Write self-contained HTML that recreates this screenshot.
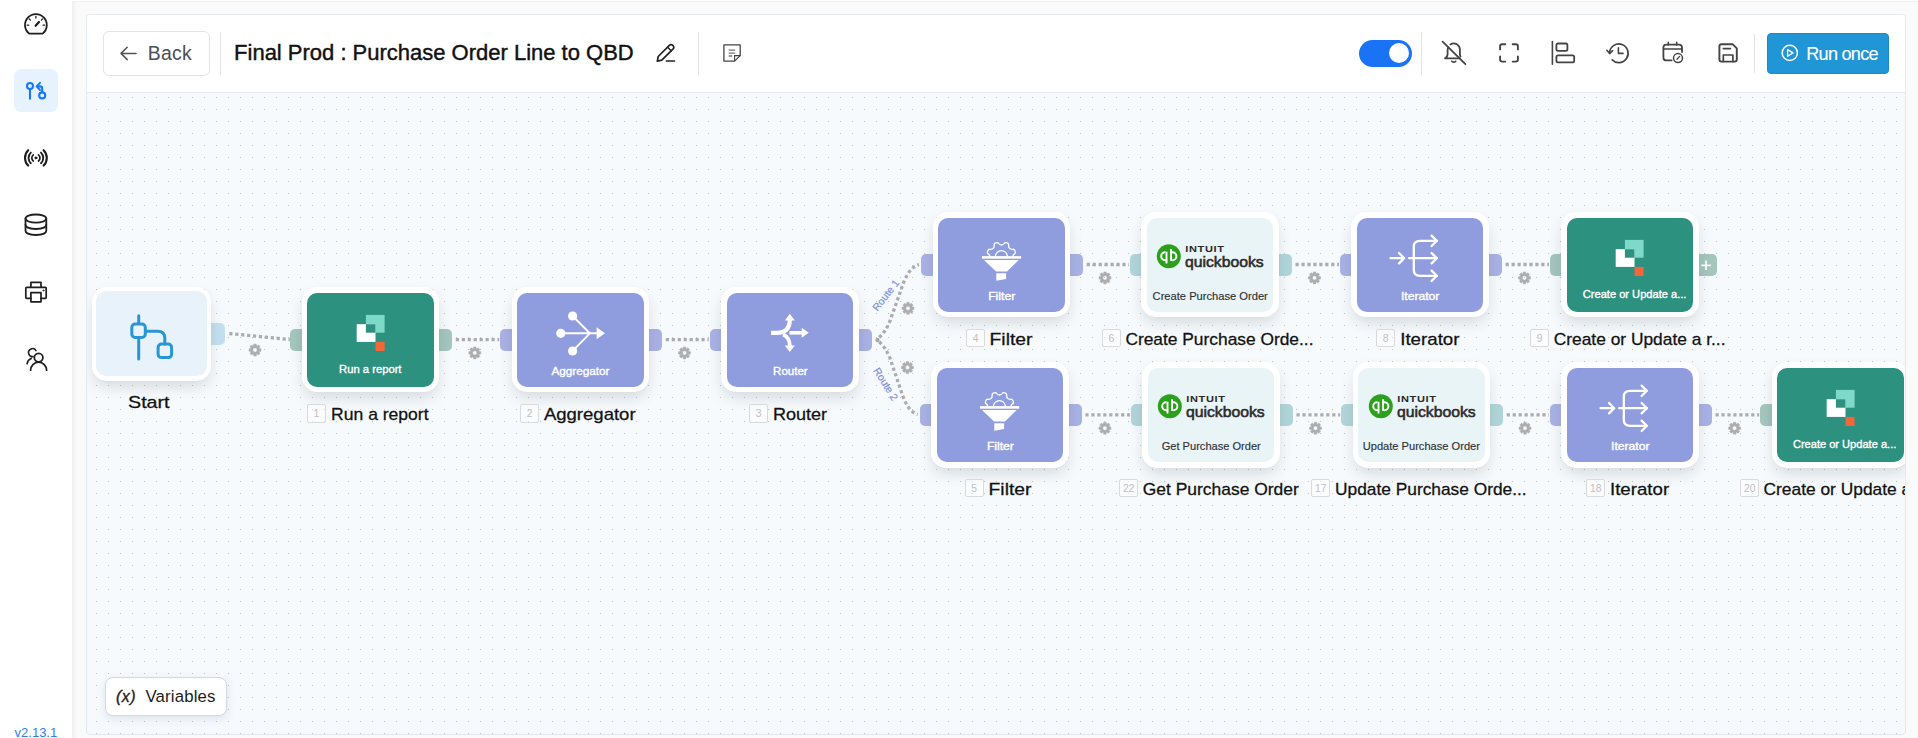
<!DOCTYPE html>
<html><head><meta charset="utf-8">
<style>
*{box-sizing:border-box;margin:0;padding:0}
html,body{width:1918px;height:738px;overflow:hidden;background:#fafafa;font-family:"Liberation Sans",sans-serif;}
#topline{position:absolute;left:72px;top:0;width:1846px;height:2px;background:linear-gradient(#fff 0 1px,#efefef 1px 2px)}
#side{position:absolute;left:0;top:0;width:72px;height:738px;background:#fff}#side:after{content:'';position:absolute;left:72px;top:2px;width:5px;height:736px;background:linear-gradient(90deg,rgba(0,0,0,.045),rgba(0,0,0,0))}
#side .act{position:absolute;left:14px;top:69px;width:44px;height:43px;border-radius:7px;background:#e6f3ff}
#side svg{position:absolute}
#ver{position:absolute;left:15px;top:725px;font-size:13px;color:#2f7df6;letter-spacing:-.3px}
#card{position:absolute;left:86px;top:14px;width:1820px;height:721px;border:1px solid #e4e9f0;border-radius:4px;background:#f6fafd;overflow:hidden}
#hdr{position:absolute;left:0;top:0;width:1818px;height:78px;background:#fff;border-bottom:1px solid #e4e7ec}
#dots{position:absolute;left:0;top:78px;width:1818px;height:643px;
 background-image:radial-gradient(circle at .5px .5px,#c0c3c7 0,#c0c3c7 .58px,transparent .8px);background-size:12px 12px;background-position:9px 4px}
#cv{position:absolute;left:0;top:0;width:1918px;height:738px;clip-path:inset(93px 13px 4px 87px)}
.abs{position:absolute}
.back{position:absolute;left:103px;top:31px;width:107px;height:45px;border:1px solid #e2e4e8;border-radius:6px;background:#fff;color:#4b4f58;font-size:20px}
.back span{position:absolute;left:45px;top:10px}
.vdiv{position:absolute;width:1px;background:#e4e4e7}
#title{position:absolute;left:234px;top:40px;font-size:21px;color:#111;white-space:nowrap;letter-spacing:.1px;-webkit-text-stroke:.35px #111}
.sw{position:absolute;left:1359px;top:39.6px;width:53px;height:27.4px;border-radius:14px;background:#1a73f5}
.sw i{position:absolute;right:3px;top:3.6px;width:20.2px;height:20.2px;border-radius:11px;background:#fff}
.run{position:absolute;left:1767px;top:33px;width:122px;height:41px;border-radius:4px;background:#2196d6;border:1px solid #1e8ac6;color:#fff;font-size:18px}
.run span{position:absolute;left:38px;top:9px;white-space:nowrap}
.vars{position:absolute;left:105px;top:677px;width:122px;height:39px;border:1px solid #d3d9e2;border-radius:8px;background:#fff;box-shadow:0 3px 8px rgba(60,80,110,.13);font-size:16px;color:#222}
.vars i{position:absolute;left:10px;top:9px;font-style:italic;font-weight:bold;font-size:15px}
.vars span{position:absolute;left:40px;top:9px}
/* nodes */
.node{position:absolute;width:137.9px;height:105.4px;border-radius:15px;background:#fff;box-shadow:0 7px 15px -2px rgba(20,25,35,.15)}
.node .box{position:absolute;left:5.9px;top:5.9px;right:5.9px;bottom:5.9px;border-radius:10px}
.node .nm{position:absolute;left:0;right:0;top:76.3px;text-align:center;font-size:10.6px;color:#fff;white-space:nowrap;-webkit-text-stroke:.25px currentColor}
.port{position:absolute;width:22px;height:22.5px;top:41.5px;border-radius:5px;z-index:-1}
.port.l{left:-11.6px}.port.r{right:-12.7px}.port.plus{right:-17.4px;width:26px;background:#a4c6bd}.port.plus svg{position:absolute;left:7.4px;top:0}
.pu .box{background:#8f9ddf}.pu .port{background:#a9b2e4}
.gr .box{background:#2d917f}.gr .port{background:#a4c6bd}
.qb .box{background:#e9f4f7}.qb .port{background:#b1d6da}.qb .nm{color:#333}
.st{width:119.2px;height:93.9px}.st.node .box{left:4.4px;top:4.5px;right:3.8px;bottom:4.5px}.st .box{left:4.3px;top:4.3px;right:4.3px;bottom:4.3px;background:#e8f2fa}.st .port{background:#c4e0f0;top:36.3px;height:22px;right:-14.2px}
.lbl{position:absolute;font-size:16.5px;color:#111;white-space:nowrap;-webkit-text-stroke:.3px #111;height:20px;line-height:20px}
.bd{position:absolute;width:18.8px;height:18.3px;border:1px solid #dadada;border-radius:2px;background:rgba(255,255,255,.45);color:#bfbfbf;font-size:10.4px;text-align:center;line-height:17.6px;letter-spacing:-.1px}
</style></head><body>
<div id="topline"></div>
<div id="card"><div id="hdr"></div><div id="dots"></div></div>
<div id="side"><div class="act"></div></div>

<div class="back"></div>
<div class="vdiv" style="left:220px;top:32px;height:43px"></div>

<div class="vdiv" style="left:698px;top:32px;height:43px"></div>
<div class="sw"><i></i></div>
<div class="vdiv" style="left:1421px;top:32px;height:43px"></div>
<div class="vdiv" style="left:1754px;top:34px;height:39px"></div>
<div class="run"></div>

<div id="cv">
<svg class="abs" style="left:0;top:0" width="1918" height="738">
<path d="M229.3,333.5 L290.0,339.6" fill="none" stroke="#acacae" stroke-width="3.3" stroke-dasharray="3.2 2.75"/>
<path transform="translate(249.0,344.0)" d="M4.59,1.67 L4.78,0.02 L7.22,0.02 L7.41,1.67 L8.07,1.95 L9.37,0.91 L11.09,2.63 L10.05,3.93 L10.33,4.59 L11.98,4.78 L11.98,7.22 L10.33,7.41 L10.05,8.07 L11.09,9.37 L9.37,11.09 L8.07,10.05 L7.41,10.33 L7.22,11.98 L4.78,11.98 L4.59,10.33 L3.93,10.05 L2.63,11.09 L0.91,9.37 L1.95,8.07 L1.67,7.41 L0.02,7.22 L0.02,4.78 L1.67,4.59 L1.95,3.93 L0.91,2.63 L2.63,0.91 L3.93,1.95 Z M3.85,6.00 A2.15,2.15 0 1 0 8.15,6.00 A2.15,2.15 0 1 0 3.85,6.00 Z" fill="#adadad" fill-rule="evenodd" stroke="#adadad" stroke-width=".5" stroke-linejoin="round"/>
<path d="M455.8,339.6 L499.2,339.6" fill="none" stroke="#acacae" stroke-width="3.3" stroke-dasharray="3.2 2.75"/>
<path transform="translate(468.8,346.9)" d="M4.59,1.67 L4.78,0.02 L7.22,0.02 L7.41,1.67 L8.07,1.95 L9.37,0.91 L11.09,2.63 L10.05,3.93 L10.33,4.59 L11.98,4.78 L11.98,7.22 L10.33,7.41 L10.05,8.07 L11.09,9.37 L9.37,11.09 L8.07,10.05 L7.41,10.33 L7.22,11.98 L4.78,11.98 L4.59,10.33 L3.93,10.05 L2.63,11.09 L0.91,9.37 L1.95,8.07 L1.67,7.41 L0.02,7.22 L0.02,4.78 L1.67,4.59 L1.95,3.93 L0.91,2.63 L2.63,0.91 L3.93,1.95 Z M3.85,6.00 A2.15,2.15 0 1 0 8.15,6.00 A2.15,2.15 0 1 0 3.85,6.00 Z" fill="#adadad" fill-rule="evenodd" stroke="#adadad" stroke-width=".5" stroke-linejoin="round"/>
<path d="M665.8,339.6 L708.7,339.6" fill="none" stroke="#acacae" stroke-width="3.3" stroke-dasharray="3.2 2.75"/>
<path transform="translate(678.5,346.9)" d="M4.59,1.67 L4.78,0.02 L7.22,0.02 L7.41,1.67 L8.07,1.95 L9.37,0.91 L11.09,2.63 L10.05,3.93 L10.33,4.59 L11.98,4.78 L11.98,7.22 L10.33,7.41 L10.05,8.07 L11.09,9.37 L9.37,11.09 L8.07,10.05 L7.41,10.33 L7.22,11.98 L4.78,11.98 L4.59,10.33 L3.93,10.05 L2.63,11.09 L0.91,9.37 L1.95,8.07 L1.67,7.41 L0.02,7.22 L0.02,4.78 L1.67,4.59 L1.95,3.93 L0.91,2.63 L2.63,0.91 L3.93,1.95 Z M3.85,6.00 A2.15,2.15 0 1 0 8.15,6.00 A2.15,2.15 0 1 0 3.85,6.00 Z" fill="#adadad" fill-rule="evenodd" stroke="#adadad" stroke-width=".5" stroke-linejoin="round"/>
<path d="M1086.7,264.5 L1128.9,264.5" fill="none" stroke="#acacae" stroke-width="3.3" stroke-dasharray="3.2 2.75"/>
<path transform="translate(1099.0,271.9)" d="M4.59,1.67 L4.78,0.02 L7.22,0.02 L7.41,1.67 L8.07,1.95 L9.37,0.91 L11.09,2.63 L10.05,3.93 L10.33,4.59 L11.98,4.78 L11.98,7.22 L10.33,7.41 L10.05,8.07 L11.09,9.37 L9.37,11.09 L8.07,10.05 L7.41,10.33 L7.22,11.98 L4.78,11.98 L4.59,10.33 L3.93,10.05 L2.63,11.09 L0.91,9.37 L1.95,8.07 L1.67,7.41 L0.02,7.22 L0.02,4.78 L1.67,4.59 L1.95,3.93 L0.91,2.63 L2.63,0.91 L3.93,1.95 Z M3.85,6.00 A2.15,2.15 0 1 0 8.15,6.00 A2.15,2.15 0 1 0 3.85,6.00 Z" fill="#adadad" fill-rule="evenodd" stroke="#adadad" stroke-width=".5" stroke-linejoin="round"/>
<path d="M1295.5,264.5 L1339.0,264.5" fill="none" stroke="#acacae" stroke-width="3.3" stroke-dasharray="3.2 2.75"/>
<path transform="translate(1308.5,271.9)" d="M4.59,1.67 L4.78,0.02 L7.22,0.02 L7.41,1.67 L8.07,1.95 L9.37,0.91 L11.09,2.63 L10.05,3.93 L10.33,4.59 L11.98,4.78 L11.98,7.22 L10.33,7.41 L10.05,8.07 L11.09,9.37 L9.37,11.09 L8.07,10.05 L7.41,10.33 L7.22,11.98 L4.78,11.98 L4.59,10.33 L3.93,10.05 L2.63,11.09 L0.91,9.37 L1.95,8.07 L1.67,7.41 L0.02,7.22 L0.02,4.78 L1.67,4.59 L1.95,3.93 L0.91,2.63 L2.63,0.91 L3.93,1.95 Z M3.85,6.00 A2.15,2.15 0 1 0 8.15,6.00 A2.15,2.15 0 1 0 3.85,6.00 Z" fill="#adadad" fill-rule="evenodd" stroke="#adadad" stroke-width=".5" stroke-linejoin="round"/>
<path d="M1505.6,264.5 L1549.0,264.5" fill="none" stroke="#acacae" stroke-width="3.3" stroke-dasharray="3.2 2.75"/>
<path transform="translate(1518.5,271.9)" d="M4.59,1.67 L4.78,0.02 L7.22,0.02 L7.41,1.67 L8.07,1.95 L9.37,0.91 L11.09,2.63 L10.05,3.93 L10.33,4.59 L11.98,4.78 L11.98,7.22 L10.33,7.41 L10.05,8.07 L11.09,9.37 L9.37,11.09 L8.07,10.05 L7.41,10.33 L7.22,11.98 L4.78,11.98 L4.59,10.33 L3.93,10.05 L2.63,11.09 L0.91,9.37 L1.95,8.07 L1.67,7.41 L0.02,7.22 L0.02,4.78 L1.67,4.59 L1.95,3.93 L0.91,2.63 L2.63,0.91 L3.93,1.95 Z M3.85,6.00 A2.15,2.15 0 1 0 8.15,6.00 A2.15,2.15 0 1 0 3.85,6.00 Z" fill="#adadad" fill-rule="evenodd" stroke="#adadad" stroke-width=".5" stroke-linejoin="round"/>
<path d="M1085.4,414.8 L1129.9,414.8" fill="none" stroke="#acacae" stroke-width="3.3" stroke-dasharray="3.2 2.75"/>
<path transform="translate(1098.9,422.2)" d="M4.59,1.67 L4.78,0.02 L7.22,0.02 L7.41,1.67 L8.07,1.95 L9.37,0.91 L11.09,2.63 L10.05,3.93 L10.33,4.59 L11.98,4.78 L11.98,7.22 L10.33,7.41 L10.05,8.07 L11.09,9.37 L9.37,11.09 L8.07,10.05 L7.41,10.33 L7.22,11.98 L4.78,11.98 L4.59,10.33 L3.93,10.05 L2.63,11.09 L0.91,9.37 L1.95,8.07 L1.67,7.41 L0.02,7.22 L0.02,4.78 L1.67,4.59 L1.95,3.93 L0.91,2.63 L2.63,0.91 L3.93,1.95 Z M3.85,6.00 A2.15,2.15 0 1 0 8.15,6.00 A2.15,2.15 0 1 0 3.85,6.00 Z" fill="#adadad" fill-rule="evenodd" stroke="#adadad" stroke-width=".5" stroke-linejoin="round"/>
<path d="M1296.5,414.8 L1340.1,414.8" fill="none" stroke="#acacae" stroke-width="3.3" stroke-dasharray="3.2 2.75"/>
<path transform="translate(1309.5,422.2)" d="M4.59,1.67 L4.78,0.02 L7.22,0.02 L7.41,1.67 L8.07,1.95 L9.37,0.91 L11.09,2.63 L10.05,3.93 L10.33,4.59 L11.98,4.78 L11.98,7.22 L10.33,7.41 L10.05,8.07 L11.09,9.37 L9.37,11.09 L8.07,10.05 L7.41,10.33 L7.22,11.98 L4.78,11.98 L4.59,10.33 L3.93,10.05 L2.63,11.09 L0.91,9.37 L1.95,8.07 L1.67,7.41 L0.02,7.22 L0.02,4.78 L1.67,4.59 L1.95,3.93 L0.91,2.63 L2.63,0.91 L3.93,1.95 Z M3.85,6.00 A2.15,2.15 0 1 0 8.15,6.00 A2.15,2.15 0 1 0 3.85,6.00 Z" fill="#adadad" fill-rule="evenodd" stroke="#adadad" stroke-width=".5" stroke-linejoin="round"/>
<path d="M1506.7,414.8 L1548.9,414.8" fill="none" stroke="#acacae" stroke-width="3.3" stroke-dasharray="3.2 2.75"/>
<path transform="translate(1519.0,422.2)" d="M4.59,1.67 L4.78,0.02 L7.22,0.02 L7.41,1.67 L8.07,1.95 L9.37,0.91 L11.09,2.63 L10.05,3.93 L10.33,4.59 L11.98,4.78 L11.98,7.22 L10.33,7.41 L10.05,8.07 L11.09,9.37 L9.37,11.09 L8.07,10.05 L7.41,10.33 L7.22,11.98 L4.78,11.98 L4.59,10.33 L3.93,10.05 L2.63,11.09 L0.91,9.37 L1.95,8.07 L1.67,7.41 L0.02,7.22 L0.02,4.78 L1.67,4.59 L1.95,3.93 L0.91,2.63 L2.63,0.91 L3.93,1.95 Z M3.85,6.00 A2.15,2.15 0 1 0 8.15,6.00 A2.15,2.15 0 1 0 3.85,6.00 Z" fill="#adadad" fill-rule="evenodd" stroke="#adadad" stroke-width=".5" stroke-linejoin="round"/>
<path d="M1715.5,414.8 L1759.2,414.8" fill="none" stroke="#acacae" stroke-width="3.3" stroke-dasharray="3.2 2.75"/>
<path transform="translate(1728.6,422.2)" d="M4.59,1.67 L4.78,0.02 L7.22,0.02 L7.41,1.67 L8.07,1.95 L9.37,0.91 L11.09,2.63 L10.05,3.93 L10.33,4.59 L11.98,4.78 L11.98,7.22 L10.33,7.41 L10.05,8.07 L11.09,9.37 L9.37,11.09 L8.07,10.05 L7.41,10.33 L7.22,11.98 L4.78,11.98 L4.59,10.33 L3.93,10.05 L2.63,11.09 L0.91,9.37 L1.95,8.07 L1.67,7.41 L0.02,7.22 L0.02,4.78 L1.67,4.59 L1.95,3.93 L0.91,2.63 L2.63,0.91 L3.93,1.95 Z M3.85,6.00 A2.15,2.15 0 1 0 8.15,6.00 A2.15,2.15 0 1 0 3.85,6.00 Z" fill="#adadad" fill-rule="evenodd" stroke="#adadad" stroke-width=".5" stroke-linejoin="round"/>
<circle cx="877.5" cy="340" r="2.2" fill="#aaa"/>
<path id="r1" d="M879.2,337.4 C 884,333 887,328 890,321 L 902,287 C 905,278 910,267 919,264.6" fill="none" stroke="#acacae" stroke-width="3.3" stroke-dasharray="3.2 2.75"/>
<path id="r2" d="M879.2,341.8 C 884,346.2 887,351.2 890,358.2 L 901.5,392.2 C 904.5,401.2 909,412 917.6,414.4" fill="none" stroke="#acacae" stroke-width="3.3" stroke-dasharray="3.2 2.75"/>
<path transform="translate(902.0,302.3)" d="M4.59,1.67 L4.78,0.02 L7.22,0.02 L7.41,1.67 L8.07,1.95 L9.37,0.91 L11.09,2.63 L10.05,3.93 L10.33,4.59 L11.98,4.78 L11.98,7.22 L10.33,7.41 L10.05,8.07 L11.09,9.37 L9.37,11.09 L8.07,10.05 L7.41,10.33 L7.22,11.98 L4.78,11.98 L4.59,10.33 L3.93,10.05 L2.63,11.09 L0.91,9.37 L1.95,8.07 L1.67,7.41 L0.02,7.22 L0.02,4.78 L1.67,4.59 L1.95,3.93 L0.91,2.63 L2.63,0.91 L3.93,1.95 Z M3.85,6.00 A2.15,2.15 0 1 0 8.15,6.00 A2.15,2.15 0 1 0 3.85,6.00 Z" fill="#adadad" fill-rule="evenodd" stroke="#adadad" stroke-width=".5" stroke-linejoin="round"/>
<path transform="translate(901.5,361.5)" d="M4.59,1.67 L4.78,0.02 L7.22,0.02 L7.41,1.67 L8.07,1.95 L9.37,0.91 L11.09,2.63 L10.05,3.93 L10.33,4.59 L11.98,4.78 L11.98,7.22 L10.33,7.41 L10.05,8.07 L11.09,9.37 L9.37,11.09 L8.07,10.05 L7.41,10.33 L7.22,11.98 L4.78,11.98 L4.59,10.33 L3.93,10.05 L2.63,11.09 L0.91,9.37 L1.95,8.07 L1.67,7.41 L0.02,7.22 L0.02,4.78 L1.67,4.59 L1.95,3.93 L0.91,2.63 L2.63,0.91 L3.93,1.95 Z M3.85,6.00 A2.15,2.15 0 1 0 8.15,6.00 A2.15,2.15 0 1 0 3.85,6.00 Z" fill="#adadad" fill-rule="evenodd" stroke="#adadad" stroke-width=".5" stroke-linejoin="round"/>
<text font-family="Liberation Sans" font-size="10.4" fill="#7d92dc" stroke="#7d92dc" stroke-width=".2" transform="translate(877.4,311.8) rotate(-52)">Route 1</text>
<text font-family="Liberation Sans" font-size="10.4" fill="#7d92dc" stroke="#7d92dc" stroke-width=".2" transform="translate(873.1,370.5) rotate(58)">Route 2</text>
</svg>
<div class="node st" style="left:91.6px;top:286.7px"><div class="port r"></div><div class="box"></div><svg class="abs" style="left:0;top:0" width="120" height="94" fill="none" stroke="#2996d4" stroke-width="3" stroke-linecap="round"><path d="M46.7,28.8 L46.7,72.1"/><rect x="39.8" y="37.0" width="13.5" height="13.5" rx="3.4" fill="#e8f2fa"/><rect x="66.1" y="57.1" width="13.5" height="13.5" rx="3.4" fill="#e8f2fa"/><path d="M53.6,44.3 L65.7,44.3 Q72.8,44.3 72.8,51.3 L72.8,56.9"/></svg></div>
<div class="node gr" style="left:301.6px;top:287.05px"><div class="port l"></div><div class="port r"></div><div class="box"></div><svg class="abs" style="left:0;top:0" width="138" height="105"><rect x="63.9" y="27.9" width="18.7" height="17.8" fill="#7fd9c8"/><rect x="54.7" y="37.2" width="18.8" height="17.7" fill="#fff"/><rect x="63.9" y="37.2" width="9.6" height="8.5" fill="#2d917f"/><rect x="73.5" y="54.9" width="9.1" height="9.1" fill="#f2663a"/></svg></div>
<div class="node pu" style="left:511.6px;top:287.05px"><div class="port l"></div><div class="port r"></div><div class="box"></div><svg class="abs" style="left:0;top:0" width="138" height="105" fill="#fff" stroke="#fff" stroke-width="1.9" stroke-linecap="round"><circle cx="60.6" cy="29.0" r="4.6" stroke="none"/><circle cx="48.8" cy="46.3" r="4.6" stroke="none"/><circle cx="60.6" cy="64.0" r="4.6" stroke="none"/><path d="M60.6,29.0 L77.9,46.3 L60.6,64.0 M48.8,46.3 L86.4,46.3" fill="none"/><path d="M84.6,40.3 L93.0,46.3 L84.6,52.3 Z" stroke="none"/></svg></div>
<div class="node pu" style="left:721.1px;top:287.05px"><div class="port l"></div><div class="port r"></div><div class="box"></div><svg class="abs" style="left:0;top:0" width="138" height="105" fill="#fff" stroke="#fff" stroke-width="3.8" stroke-linecap="butt"><path d="M50.1,45.9 L56.0,45.9 Q68.8,45.5 68.8,32.7" fill="none" stroke-width="4.2"/><path d="M63.9,33.5 L68.8,26.7 L73.7,33.5 Z" stroke="none"/><path d="M68.5,45.8 L81.1,45.8" fill="none" stroke-width="3.6"/><path d="M80.7,40.7 L87.7,45.7 L80.7,50.7 Z" stroke="none"/><path d="M62.1,47.5 Q68.8,50.5 68.8,59.1" fill="none" stroke-width="3.6"/><path d="M63.8,58.5 L68.8,65.1 L73.8,58.5 Z" stroke="none"/></svg></div>
<div class="node pu" style="left:932.5px;top:212.0px"><div class="port l"></div><div class="port r"></div><div class="box"></div><svg class="abs" style="left:0;top:0" width="138" height="105" fill="#fff" stroke="#fff" stroke-linecap="butt" stroke-linejoin="round"><path d="M56.7,44.6 Q56.8,42.9 55.3,41.9 Q53.8,41.0 54.7,38.9 Q55.5,36.9 57.3,37.3 Q59.0,37.6 60.2,36.4 Q61.4,35.2 61.1,33.5 Q60.7,31.7 62.7,30.9 Q64.8,30.0 65.7,31.5 Q66.7,33.0 68.4,33.0 Q70.1,33.0 71.1,31.5 Q72.0,30.0 74.1,30.9 Q76.1,31.7 75.7,33.5 Q75.4,35.2 76.6,36.4 Q77.8,37.6 79.5,37.3 Q81.3,36.9 82.1,38.9 Q83.0,41.0 81.5,41.9 Q80.0,42.9 80.0,43.7 L80.1,44.6" fill="none" stroke-width="1.3"/><path d="M62.4,44.6 A6,6 0 0 1 74.4,44.6" fill="none" stroke-width="1.3"/><rect x="49.0" y="44.1" width="39.2" height="2.6" stroke="none"/><path d="M51.0,48.1 L85.7,48.1 L74.0,59.5 L63.0,59.5 Z" stroke="none"/><path d="M63.3,61.2 L73.1,61.2 L73.1,67.0 L63.3,68.8 Z" stroke="none"/></svg></div>
<div class="node qb" style="left:1141.3px;top:212.0px"><div class="port l"></div><div class="port r"></div><div class="box"></div><svg class="abs" style="left:0;top:0" width="138" height="105"><circle cx="27.8" cy="44.3" r="12" fill="#2ca01c"/><g fill="none" stroke="#fff" stroke-width="1.9" stroke-linecap="butt"><path d="M26.2,48.3 H24.2 A4,4 0 0 1 24.2,40.3 H24.4"/><path d="M25.5,39.7 V51.5"/><path d="M29.4,40.3 H31.4 A4,4 0 0 1 31.4,48.3 H31.2"/><path d="M30.1,48.9 V37.1"/></g><text x="44.3" y="40.4" font-family="Liberation Sans" font-weight="bold" font-size="9.9" letter-spacing="0.55" fill="#2b2b2b" textLength="39.2" lengthAdjust="spacingAndGlyphs">INTUIT</text><text x="43.9" y="55.1" font-family="Liberation Sans" font-size="14.9" fill="#2b2b2b" stroke="#2b2b2b" stroke-width=".55" textLength="78.8" lengthAdjust="spacingAndGlyphs">quickbooks</text></svg></div>
<div class="node pu" style="left:1351.4px;top:212.0px"><div class="port l"></div><div class="port r"></div><div class="box"></div><svg class="abs" style="left:0;top:0" width="138" height="105" fill="none" stroke="#fff" stroke-width="2.3" stroke-linecap="round" stroke-linejoin="round"><path d="M39.6,46.2 L53.2,46.2 M48.0,41.0 L53.2,46.2 L48.0,51.4"/><path d="M85.8,28.8 L69.1,28.8 Q62.8,28.8 62.8,34.5 L62.8,58.1 Q62.8,63.8 69.1,63.8 L85.8,63.8"/><path d="M58.1,46.2 L85.8,46.2"/><path d="M80.6,23.6 L85.8,28.8 L80.6,34.0 M80.6,41.0 L85.8,46.2 L80.6,51.4 M80.6,58.6 L85.8,63.8 L80.6,69.0"/></svg></div>
<div class="node gr" style="left:1561.4px;top:212.0px"><div class="port l"></div><div class="port plus"><svg width="17" height="23"><path d="M3.2,11.3 H12.8 M8,6.5 V16.1" stroke="#fff" stroke-width="1.7" fill="none"/></svg></div><div class="box"></div><svg class="abs" style="left:0;top:0" width="138" height="105"><rect x="63.9" y="27.9" width="18.7" height="17.8" fill="#7fd9c8"/><rect x="54.7" y="37.2" width="18.8" height="17.7" fill="#fff"/><rect x="63.9" y="37.2" width="9.6" height="8.5" fill="#2d917f"/><rect x="73.5" y="54.9" width="9.1" height="9.1" fill="#f2663a"/></svg></div>
<div class="node pu" style="left:931.2px;top:362.3px"><div class="port l"></div><div class="port r"></div><div class="box"></div><svg class="abs" style="left:0;top:0" width="138" height="105" fill="#fff" stroke="#fff" stroke-linecap="butt" stroke-linejoin="round"><path d="M56.7,44.6 Q56.8,42.9 55.3,41.9 Q53.8,41.0 54.7,38.9 Q55.5,36.9 57.3,37.3 Q59.0,37.6 60.2,36.4 Q61.4,35.2 61.1,33.5 Q60.7,31.7 62.7,30.9 Q64.8,30.0 65.7,31.5 Q66.7,33.0 68.4,33.0 Q70.1,33.0 71.1,31.5 Q72.0,30.0 74.1,30.9 Q76.1,31.7 75.7,33.5 Q75.4,35.2 76.6,36.4 Q77.8,37.6 79.5,37.3 Q81.3,36.9 82.1,38.9 Q83.0,41.0 81.5,41.9 Q80.0,42.9 80.0,43.7 L80.1,44.6" fill="none" stroke-width="1.3"/><path d="M62.4,44.6 A6,6 0 0 1 74.4,44.6" fill="none" stroke-width="1.3"/><rect x="49.0" y="44.1" width="39.2" height="2.6" stroke="none"/><path d="M51.0,48.1 L85.7,48.1 L74.0,59.5 L63.0,59.5 Z" stroke="none"/><path d="M63.3,61.2 L73.1,61.2 L73.1,67.0 L63.3,68.8 Z" stroke="none"/></svg></div>
<div class="node qb" style="left:1142.3px;top:362.3px"><div class="port l"></div><div class="port r"></div><div class="box"></div><svg class="abs" style="left:0;top:0" width="138" height="105"><circle cx="27.8" cy="44.3" r="12" fill="#2ca01c"/><g fill="none" stroke="#fff" stroke-width="1.9" stroke-linecap="butt"><path d="M26.2,48.3 H24.2 A4,4 0 0 1 24.2,40.3 H24.4"/><path d="M25.5,39.7 V51.5"/><path d="M29.4,40.3 H31.4 A4,4 0 0 1 31.4,48.3 H31.2"/><path d="M30.1,48.9 V37.1"/></g><text x="44.3" y="40.4" font-family="Liberation Sans" font-weight="bold" font-size="9.9" letter-spacing="0.55" fill="#2b2b2b" textLength="39.2" lengthAdjust="spacingAndGlyphs">INTUIT</text><text x="43.9" y="55.1" font-family="Liberation Sans" font-size="14.9" fill="#2b2b2b" stroke="#2b2b2b" stroke-width=".55" textLength="78.8" lengthAdjust="spacingAndGlyphs">quickbooks</text></svg></div>
<div class="node qb" style="left:1352.5px;top:362.3px"><div class="port l"></div><div class="port r"></div><div class="box"></div><svg class="abs" style="left:0;top:0" width="138" height="105"><circle cx="27.8" cy="44.3" r="12" fill="#2ca01c"/><g fill="none" stroke="#fff" stroke-width="1.9" stroke-linecap="butt"><path d="M26.2,48.3 H24.2 A4,4 0 0 1 24.2,40.3 H24.4"/><path d="M25.5,39.7 V51.5"/><path d="M29.4,40.3 H31.4 A4,4 0 0 1 31.4,48.3 H31.2"/><path d="M30.1,48.9 V37.1"/></g><text x="44.3" y="40.4" font-family="Liberation Sans" font-weight="bold" font-size="9.9" letter-spacing="0.55" fill="#2b2b2b" textLength="39.2" lengthAdjust="spacingAndGlyphs">INTUIT</text><text x="43.9" y="55.1" font-family="Liberation Sans" font-size="14.9" fill="#2b2b2b" stroke="#2b2b2b" stroke-width=".55" textLength="78.8" lengthAdjust="spacingAndGlyphs">quickbooks</text></svg></div>
<div class="node pu" style="left:1561.3px;top:362.3px"><div class="port l"></div><div class="port r"></div><div class="box"></div><svg class="abs" style="left:0;top:0" width="138" height="105" fill="none" stroke="#fff" stroke-width="2.3" stroke-linecap="round" stroke-linejoin="round"><path d="M39.6,46.2 L53.2,46.2 M48.0,41.0 L53.2,46.2 L48.0,51.4"/><path d="M85.8,28.8 L69.1,28.8 Q62.8,28.8 62.8,34.5 L62.8,58.1 Q62.8,63.8 69.1,63.8 L85.8,63.8"/><path d="M58.1,46.2 L85.8,46.2"/><path d="M80.6,23.6 L85.8,28.8 L80.6,34.0 M80.6,41.0 L85.8,46.2 L80.6,51.4 M80.6,58.6 L85.8,63.8 L80.6,69.0"/></svg></div>
<div class="node gr" style="left:1771.6px;top:362.3px"><div class="port l"></div><div class="box"></div><svg class="abs" style="left:0;top:0" width="138" height="105"><rect x="63.9" y="27.9" width="18.7" height="17.8" fill="#7fd9c8"/><rect x="54.7" y="37.2" width="18.8" height="17.7" fill="#fff"/><rect x="63.9" y="37.2" width="9.6" height="8.5" fill="#2d917f"/><rect x="73.5" y="54.9" width="9.1" height="9.1" fill="#f2663a"/></svg></div>
<div class="bd" style="left:307px;top:404.3px">1</div>
<div class="bd" style="left:520.3px;top:404.3px">2</div>
<div class="bd" style="left:749.2px;top:404.3px">3</div>
<div class="bd" style="left:966.3px;top:329.1px">4</div>
<div class="bd" style="left:1101.9px;top:329.1px">6</div>
<div class="bd" style="left:1376.3px;top:329.1px">8</div>
<div class="bd" style="left:1530.2px;top:329.1px">9</div>
<div class="bd" style="left:964.8px;top:479.2px">5</div>
<div class="bd" style="left:1119.2px;top:479.2px">22</div>
<div class="bd" style="left:1311.3px;top:479.2px">17</div>
<div class="bd" style="left:1586.3px;top:479.2px">18</div>
<div class="bd" style="left:1740.3px;top:479.2px">20</div>
<svg class="abs" style="left:0;top:0" width="1918" height="738" font-family="Liberation Sans" font-size="16.6" fill="#121212" stroke="#121212" stroke-width="0.28">
<text x="128.0" y="407.9" textLength="41.6" lengthAdjust="spacingAndGlyphs">Start</text>
<text x="331.1" y="419.8" textLength="97.5" lengthAdjust="spacingAndGlyphs">Run a report</text>
<text x="543.9" y="419.8" textLength="91.7" lengthAdjust="spacingAndGlyphs">Aggregator</text>
<text x="772.9" y="419.8" textLength="54.2" lengthAdjust="spacingAndGlyphs">Router</text>
<text x="989.6" y="344.8" textLength="42.8" lengthAdjust="spacingAndGlyphs">Filter</text>
<text x="1125.4" y="344.8" textLength="188.1" lengthAdjust="spacingAndGlyphs">Create Purchase Orde...</text>
<text x="1400.2" y="344.8" textLength="59.3" lengthAdjust="spacingAndGlyphs">Iterator</text>
<text x="1553.7" y="344.8" textLength="171.8" lengthAdjust="spacingAndGlyphs">Create or Update a r...</text>
<text x="988.6" y="494.5" textLength="42.8" lengthAdjust="spacingAndGlyphs">Filter</text>
<text x="1142.7" y="494.5" textLength="156.1" lengthAdjust="spacingAndGlyphs">Get Purchase Order</text>
<text x="1335.1" y="494.5" textLength="191.5" lengthAdjust="spacingAndGlyphs">Update Purchase Orde...</text>
<text x="1610.0" y="494.5" textLength="59.1" lengthAdjust="spacingAndGlyphs">Iterator</text>
<text x="1763.5" y="494.5" textLength="171.8" lengthAdjust="spacingAndGlyphs">Create or Update a r...</text>
</svg>
<svg class="abs" style="left:0;top:0" width="1918" height="738" font-family="Liberation Sans" font-size="11.1"><text x="339.1" y="372.9" textLength="62.4" lengthAdjust="spacingAndGlyphs" fill="#ffffff" stroke="#ffffff" stroke-width="0.35">Run a report</text>
<text x="551.4" y="374.9" textLength="58.1" lengthAdjust="spacingAndGlyphs" fill="#ffffff" stroke="#ffffff" stroke-width="0.35">Aggregator</text>
<text x="773.1" y="374.9" textLength="34.6" lengthAdjust="spacingAndGlyphs" fill="#ffffff" stroke="#ffffff" stroke-width="0.35">Router</text>
<text x="988.2" y="299.9" textLength="27.0" lengthAdjust="spacingAndGlyphs" fill="#ffffff" stroke="#ffffff" stroke-width="0.35">Filter</text>
<text x="1152.6" y="299.9" textLength="115.2" lengthAdjust="spacingAndGlyphs" fill="#2f3136" stroke="#2f3136" stroke-width="0.15">Create Purchase Order</text>
<text x="1401.0" y="299.9" textLength="38.3" lengthAdjust="spacingAndGlyphs" fill="#ffffff" stroke="#ffffff" stroke-width="0.35">Iterator</text>
<text x="1582.8" y="297.8" textLength="103.6" lengthAdjust="spacingAndGlyphs" fill="#ffffff" stroke="#ffffff" stroke-width="0.35">Create or Update a...</text>
<text x="986.9" y="450.1" textLength="27.0" lengthAdjust="spacingAndGlyphs" fill="#ffffff" stroke="#ffffff" stroke-width="0.35">Filter</text>
<text x="1161.7" y="450.1" textLength="99.1" lengthAdjust="spacingAndGlyphs" fill="#2f3136" stroke="#2f3136" stroke-width="0.15">Get Purchase Order</text>
<text x="1362.7" y="450.1" textLength="117.3" lengthAdjust="spacingAndGlyphs" fill="#2f3136" stroke="#2f3136" stroke-width="0.15">Update Purchase Order</text>
<text x="1611.0" y="450.1" textLength="38.5" lengthAdjust="spacingAndGlyphs" fill="#ffffff" stroke="#ffffff" stroke-width="0.35">Iterator</text>
<text x="1792.9" y="448.1" textLength="103.4" lengthAdjust="spacingAndGlyphs" fill="#ffffff" stroke="#ffffff" stroke-width="0.35">Create or Update a...</text></svg>
</div>

<svg class="abs" style="left:0;top:0" width="1918" height="738" fill="none" stroke-linecap="round" stroke-linejoin="round">
<!-- sidebar icons -->
<g stroke="#1f1f1f" stroke-width="1.8">
 <!-- dashboard -->
 <path d="M29.2,33.6 A10.9,10.9 0 1 1 42.6,33.6 Z"/>
 <path d="M35.6,25.8 L39,22" stroke-width="2.2"/>
 <g stroke-width="1.3"><path d="M35.9,16.4 v1.6 M29.3,19 l1.1,1.1 M42.5,19 l-1.1,1.1 M27.2,25.2 h1.5 M43.1,25.2 h1.5"/></g>
 <!-- broadcast -->
 <g>
 <circle cx="35.9" cy="157.9" r="1.0" fill="#1f1f1f" stroke-width="1"/>
 <path d="M33.3,154.8 A4.0,4.0 0 0 0 33.3,161.0 M38.5,154.8 A4.0,4.0 0 0 1 38.5,161.0" stroke-width="1.7"/>
 <path d="M30.8,152.6 A7.4,7.4 0 0 0 30.8,163.2 M41.0,152.6 A7.4,7.4 0 0 1 41.0,163.2" stroke-width="1.9"/>
 <path d="M28.2,150.2 A10.9,10.9 0 0 0 28.2,165.6 M43.6,150.2 A10.9,10.9 0 0 1 43.6,165.6" stroke-width="2.1"/>
 </g>
 <!-- database -->
 <ellipse cx="35.9" cy="218.6" rx="10.4" ry="4.1"/>
 <path d="M25.5,218.6 V230.8 C25.5,236.4 46.3,236.4 46.3,230.8 V218.6"/>
 <path d="M25.5,224.8 C25.5,230.4 46.3,230.4 46.3,224.8"/>
 <!-- printer -->
 <path d="M30.9,287.2 V282.4 H41 V287.2" stroke-width="1.7"/>
 <path d="M30.9,298.4 H26.6 Q25.8,298.4 25.8,297.6 V288.2 Q25.8,287.4 26.6,287.4 H45.4 Q46.2,287.4 46.2,288.2 V297.6 Q46.2,298.4 45.4,298.4 H41" stroke-width="1.7"/>
 <rect x="30.9" y="292.6" width="10.1" height="9.2" stroke-width="1.7"/>
 <circle cx="43.4" cy="290.4" r=".5" stroke-width="1"/>
 <!-- team -->
 <circle cx="38.6" cy="357.6" r="4.3"/>
 <path d="M30.6,370.2 A8,8 0 0 1 46.6,370.2"/>
 <path d="M27,363.8 A7,7 0 0 1 31.2,358.4 M33,356.6 A4,4 0 1 1 36,350.6" stroke-width="1.6"/>
</g>
<!-- pull request (active) -->
<g stroke="#1677ff" stroke-width="2.1">
 <circle cx="30" cy="86" r="3"/><path d="M30,89.2 V98.8"/>
 <circle cx="42.2" cy="95.4" r="3"/><path d="M42.2,92.2 V88.6 Q42.2,86.4 40,86.4 H37.4"/>
 <path d="M40,82.8 L36.6,86.4 L40,90" stroke-width="1.9"/>
</g>
<!-- header left -->
<g stroke="#555" stroke-width="1.5"><path d="M121,53.4 H136 M127.2,47.2 L121,53.4 L127.2,59.6"/></g>
<g stroke="#222" stroke-width="1.7">
 <path d="M658.2,56.5 L669.6,45.2 A2.1,2.1 0 0 1 672.6,45.2 L673.2,45.8 A2.1,2.1 0 0 1 673.2,48.8 L661.8,60.2 L657.3,61.2 Z"/>
 <path d="M667.6,47.3 L671.1,50.8" stroke-width="1.5"/>
 <path d="M666.4,61 H674.4"/>
</g>
<g stroke="#444" stroke-width="1.3" stroke-linecap="butt" stroke-linejoin="miter">
 <path d="M723.9,44.9 H740.2 V55.6 L734.6,61.1 H723.9 Z" stroke-linejoin="round"/>
 <path d="M740.2,55.6 H734.6 V61.1" stroke-width="1.1"/>
 <path d="M728.7,50.2 H735.2 M728.7,53.1 H735.2 M728.7,56 H732.2" stroke="#777" stroke-width="1.3"/>
</g>
<!-- header right icons -->
<g stroke="#444" stroke-width="1.8">
 <!-- bell off -->
 <path d="M1442.6,41.6 L1465.4,64.2"/>
 <path d="M1448.2,47.2 Q1447.6,48.8 1447.6,50.5 V54 Q1447.6,56.8 1445,58.3 H1459.4"/>
 <path d="M1450.4,44.4 A6.2,6.2 0 0 1 1459.9,49.8 V54 Q1459.9,55.4 1460.5,56.6"/>
 <path d="M1451.8,61.2 Q1453.8,63.2 1455.8,61.2" stroke-width="1.6"/>
 <!-- fullscreen -->
 <path d="M1500.1,49.4 V46.2 Q1500.1,44.2 1502.1,44.2 H1505.3 M1512.7,44.2 H1515.9 Q1517.9,44.2 1517.9,46.2 V49.4 M1517.9,56.4 V59.6 Q1517.9,61.6 1515.9,61.6 H1512.7 M1505.3,61.6 H1502.1 Q1500.1,61.6 1500.1,59.6 V56.4" stroke-width="1.9"/>
 <!-- align left -->
 <path d="M1552.4,41.6 V64.2" stroke-width="1.6"/>
 <rect x="1556.4" y="43.5" width="11" height="7.4" rx="1.6"/>
 <rect x="1556.4" y="55.4" width="17.8" height="7" rx="1.6"/>
 <!-- history -->
 <path d="M1609.6,52.2 A9.3,9.3 0 1 1 1612.2,59.8" stroke-width="1.7"/>
 <path d="M1606.9,50.3 L1609.6,53.6 L1612.6,50.6" stroke-width="1.6"/>
 <path d="M1618.4,47.8 V53.4 H1623" stroke-width="1.6"/>
 <!-- calendar clock -->
 <path d="M1671.6,60.4 H1666.4 Q1663.4,60.4 1663.4,57.4 V47.6 Q1663.4,44.6 1666.4,44.6 H1679 Q1682,44.6 1682,47.6 V52"/>
 <path d="M1663.4,49 H1682" stroke-width="1.4"/>
 <path d="M1668.3,42.4 V45 M1676.7,42.4 V45" stroke-width="1.6"/>
 <circle cx="1678" cy="58.1" r="4.5" stroke-width="1.5" fill="#fff"/>
 <path d="M1677,59.2 L1679.6,56.4" stroke-width="1.3"/>
 <!-- save -->
 <path d="M1721.4,44.2 H1732.6 L1736.8,48.4 V59.6 Q1736.8,61.6 1734.8,61.6 H1721.4 Q1719.4,61.6 1719.4,59.6 V46.2 Q1719.4,44.2 1721.4,44.2 Z" stroke-width="1.9"/>
 <path d="M1723.3,61.4 V55 H1732.9 V61.4" stroke-width="1.7"/>
 <path d="M1723.4,48.6 H1730.4" stroke-width="1.7"/>
</g>
<!-- run once icon -->
<g stroke="#fff" stroke-width="1.5">
 <circle cx="1789.8" cy="52.9" r="7.6"/>
 <path d="M1787.6,49.6 L1793,52.9 L1787.6,56.2 Z" stroke-width="1.3"/>
</g>
</svg>
<div class="vars"></div>

<svg class="abs" style="left:0;top:0" width="1918" height="738" font-family="Liberation Sans">
<text x="147.8" y="59.6" font-size="19.4" fill="#4a4f58" textLength="44" lengthAdjust="spacing">Back</text>
<text x="234.1" y="59.6" font-size="21.3" fill="#111" stroke="#111" stroke-width=".4" textLength="399.6" lengthAdjust="spacingAndGlyphs">Final Prod : Purchase Order Line to QBD</text>
<text x="1806.2" y="59.7" font-size="18.1" fill="#fff" stroke="#fff" stroke-width=".12" textLength="72.4" lengthAdjust="spacing">Run once</text>
<text x="116" y="702.2" font-size="16" font-style="italic" fill="#222" stroke="#222" stroke-width=".35" textLength="19.5" lengthAdjust="spacing">(x)</text>
<text x="145.4" y="702.3" font-size="16.8" fill="#1c1c1c" textLength="70" lengthAdjust="spacing">Variables</text>
<text x="14.6" y="737" font-size="13" fill="#2f7df6" textLength="42.6" lengthAdjust="spacing">v2.13.1</text>
</svg>
</body></html>
